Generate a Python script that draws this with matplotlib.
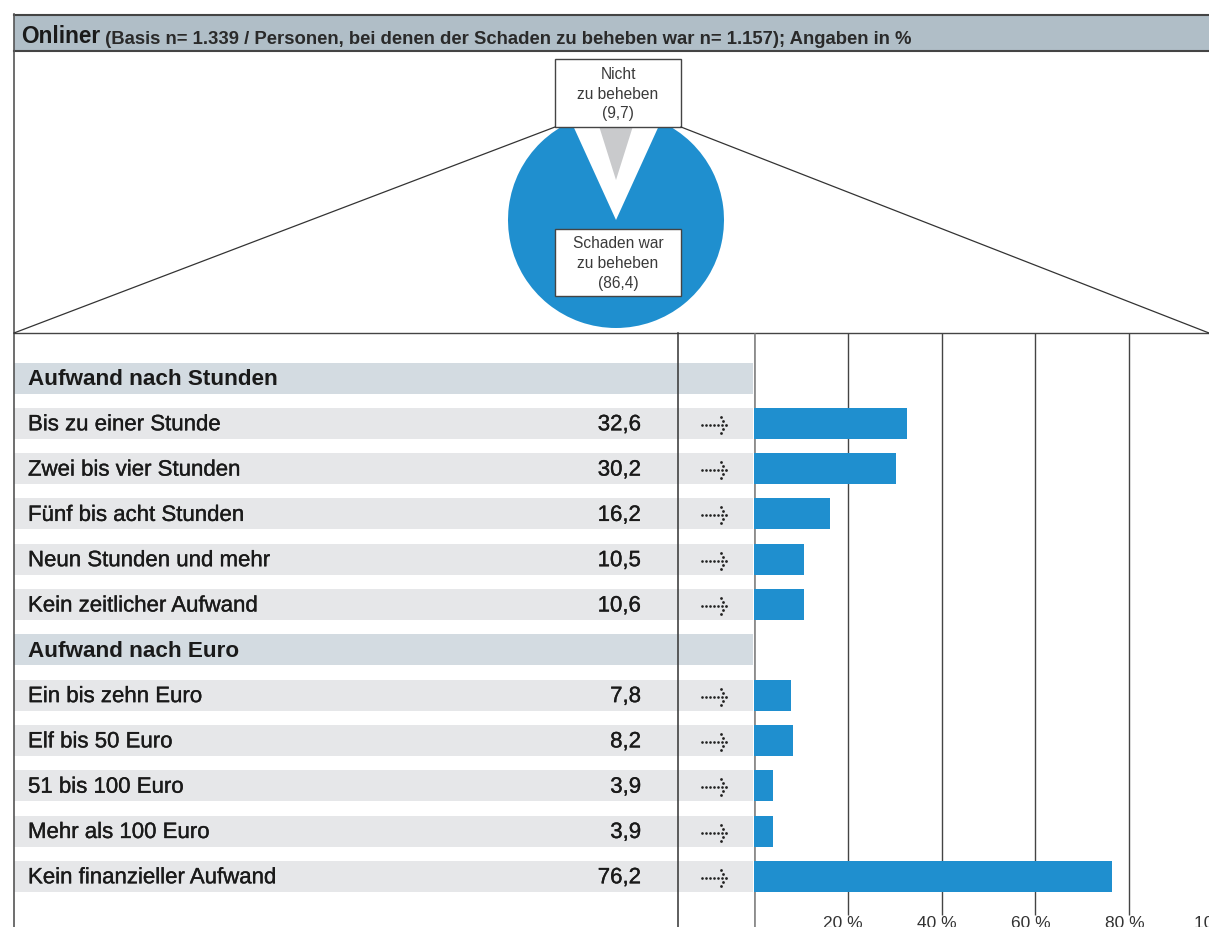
import matplotlib
matplotlib.use("Agg")
import matplotlib.pyplot as plt
import matplotlib.patheffects as pe
from matplotlib.patches import Rectangle

plt.rcParams['font.family'] = ['Liberation Sans', 'DejaVu Sans']

# data
pie_share_fixable = 86.4
pie_share_not_fixable = 9.7

section_titles = ['Aufwand nach Stunden', 'Aufwand nach Euro']
hours_labels = ['Bis zu einer Stunde', 'Zwei bis vier Stunden', 'Fünf bis acht Stunden',
                'Neun Stunden und mehr', 'Kein zeitlicher Aufwand']
hours_values = [32.6, 30.2, 16.2, 10.5, 10.6]
euro_labels = ['Ein bis zehn Euro', 'Elf bis 50 Euro', '51 bis 100 Euro',
               'Mehr als 100 Euro', 'Kein finanzieller Aufwand']
euro_values = [7.8, 8.2, 3.9, 3.9, 76.2]
tick_values = [20, 40, 60, 80, 100]

BLUE = '#1f8fcf'
TXT = '#1a1a1a'
W, H = 1209, 927
medium = [pe.withStroke(linewidth=0.25, foreground=TXT)]

fig = plt.figure(figsize=(W / 100, H / 100), dpi=100)

# pie (own axes, drawn first so the boxes cover it)
cx, cy, r = 616, 220, 108
pax = fig.add_axes([(cx - r) / W, 1 - (cy + r) / H, 2 * r / W, 2 * r / H])
pax.pie([pie_share_fixable, 100 - pie_share_fixable], colors=[BLUE, 'none'],
        startangle=270 - pie_share_fixable * 3.6 / 2, counterclock=True,
        wedgeprops=dict(linewidth=0))
pax.pie([pie_share_not_fixable, 100 - pie_share_not_fixable], colors=['#c9cacc', 'none'],
        startangle=90 - pie_share_not_fixable * 3.6 / 2, explode=[0.37, 0],
        wedgeprops=dict(linewidth=0))
pax.set_xlim(-1, 1)
pax.set_ylim(-1, 1)
pax.axis('off')

# overlay in pixel coordinates
ax = fig.add_axes([0, 0, 1, 1], facecolor='none')
ax.set_xlim(0, W)
ax.set_ylim(H, 0)
ax.axis('off')

# header band
ax.add_patch(Rectangle((14, 14), W, 37, facecolor='#b0bec7', edgecolor='none'))
ax.plot([14, W], [14.5, 14.5], color='#444444', lw=1.5)
ax.plot([14, W], [50.5, 50.5], color='#444444', lw=1.5)
t = ax.text(21, 43, 'Onliner', fontsize=16.3, fontweight='bold', color=TXT, va='baseline')
ax.annotate(' (Basis n= 1.339 / Personen, bei denen der Schaden zu beheben war n= 1.157); Angaben in %',
            xy=(1, 0), xycoords=t, va='bottom', fontsize=13.3, fontweight='bold', color='#2a2a2a')

# frame lines
ax.plot([14, 14], [14, H], color='#555555', lw=1.2)
ax.plot([14, W], [333, 333], color='#444444', lw=1)
ax.plot([555, 14], [127, 333], color='#333333', lw=0.9)
ax.plot([681, W], [127, 333], color='#333333', lw=0.9)

# pie label boxes
for (y0, y1, txt) in [(59, 127, 'Nicht\nzu beheben\n(%s)' % str(pie_share_not_fixable).replace('.', ',')),
                      (229, 296, 'Schaden war\nzu beheben\n(%s)' % str(pie_share_fixable).replace('.', ','))]:
    ax.add_patch(Rectangle((555, y0), 126, y1 - y0, facecolor='white', edgecolor='#444444', lw=1))
    ax.text(618, (y0 + y1) / 2 + 1, txt, ha='center', va='center', fontsize=11.2,
            color='#3a3a3a', linespacing=1.4)

# rows
rows = [(section_titles[0], None)] + list(zip(hours_labels, hours_values)) + \
       [(section_titles[1], None)] + list(zip(euro_labels, euro_values))
y0, step, bh = 378, 45.3, 31
ys = [y0 + i * step for i in range(len(rows))]

for (label, val), y in zip(rows, ys):
    if val is None:
        ax.add_patch(Rectangle((14, y - bh / 2), 739, bh, facecolor='#d3dbe1', edgecolor='none'))
        ax.text(28, y + 1.5, label, fontsize=16.2, fontweight='bold', color=TXT, va='center')
    else:
        ax.add_patch(Rectangle((14, y - bh / 2), 739, bh, facecolor='#e6e7e9', edgecolor='none'))
        ax.text(28, y + 1.5, label, fontsize=16, color=TXT, va='center', path_effects=medium)
        ax.text(641, y + 1.5, ('%.1f' % val).replace('.', ','), fontsize=16, color=TXT,
                va='center', ha='right', path_effects=medium)
        # dotted arrow
        ay = y + 1.5
        ax.plot([702 + 4 * k for k in range(6)], [ay] * 6, 'o', ms=1.9, color='#222222', mec='none')
        ax.plot([720.7, 723.3, 726, 723.3, 720.7], [ay - 8, ay - 4, ay, ay + 4, ay + 8], 'o',
                ms=2.0, color='#222222', mec='none')

ax.plot([678, 678], [333, H], color='#333333', lw=1.1)

# bars
bx = fig.add_axes([754 / W, 0, 469 / W, (H - 333) / H], facecolor='none')
bx.set_xlim(0, 100)
bx.set_ylim(H, 333)
bx.axis('off')
bx.vlines(tick_values, 333, 915, color='#444444', lw=1)
bx.vlines([0], 333, H, color='#8c8c8c', lw=2)
bar_ys = [y for (label, val), y in zip(rows, ys) if val is not None]
bar_vals = [val for (label, val) in rows if val is not None]
bx.barh(bar_ys, bar_vals, height=bh, color=BLUE, left=0.1, zorder=3)
for v in tick_values:
    bx.text(v - 1, 916, '%d %%' % v, ha='center', va='top', fontsize=12.5, color='#333333',
            clip_on=False)

fig.savefig('out.png', dpi=100)
